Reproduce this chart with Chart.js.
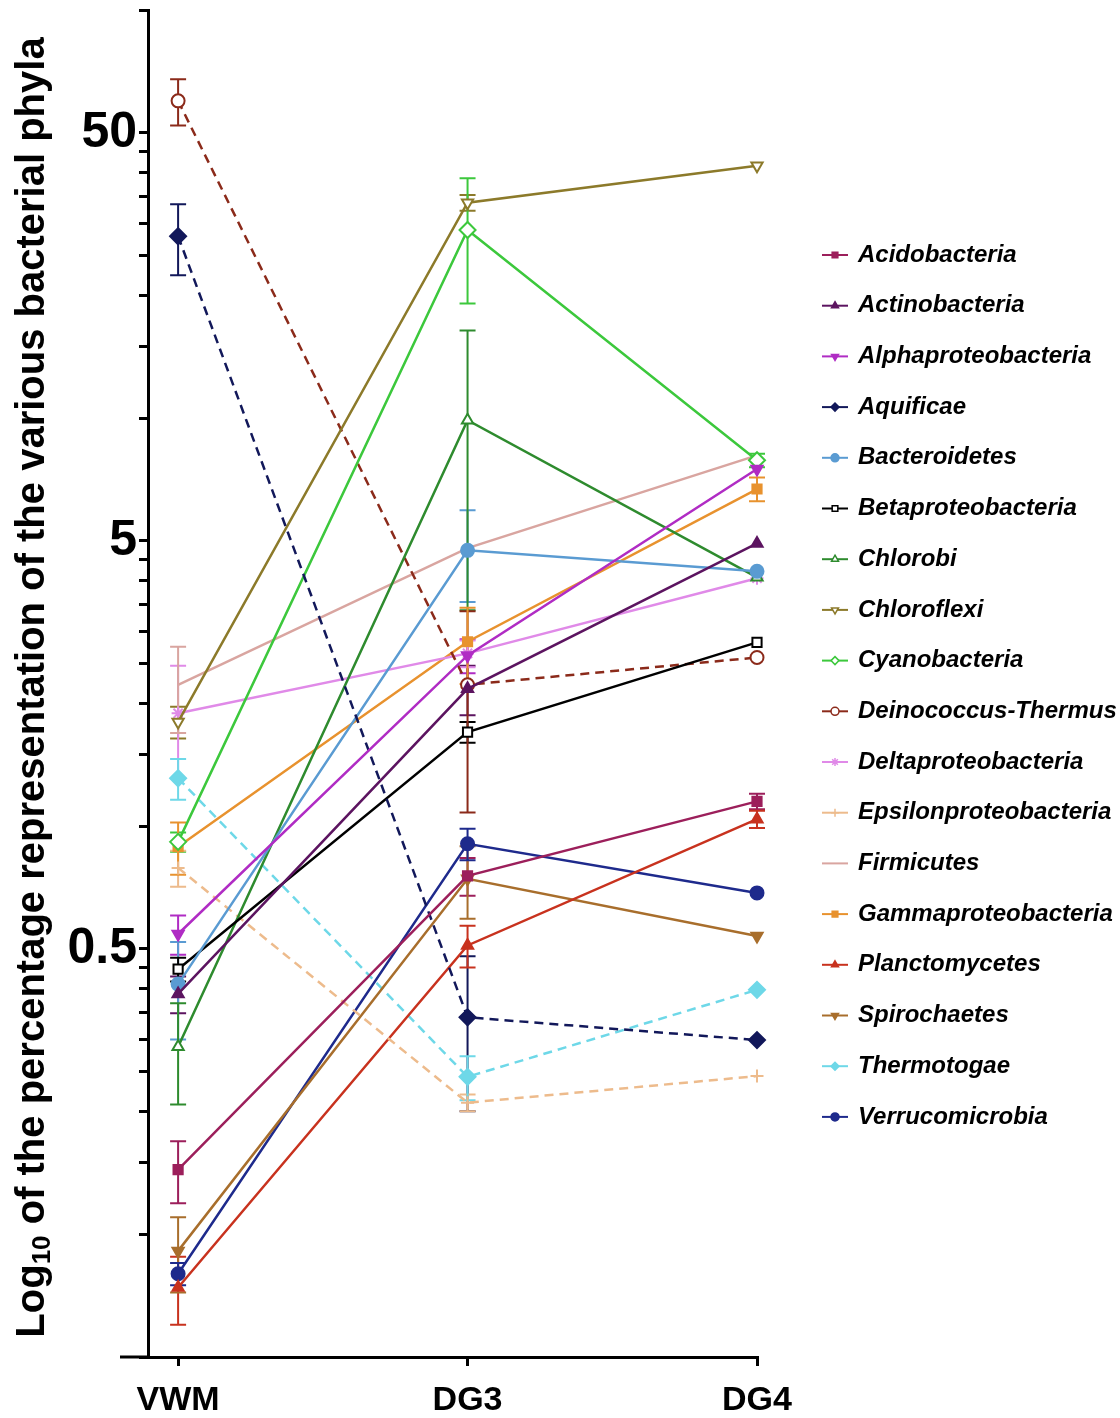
<!DOCTYPE html>
<html>
<head>
<meta charset="utf-8">
<script src="https://cdn.jsdelivr.net/npm/chart.js@4.4.1/dist/chart.umd.min.js"></script>
<style>
  body { margin: 0; background: #fff; }
</style>
</head>
<body>
<canvas id="phylaChart" width="1120" height="1418"></canvas>
<script>
// sampling sites (x categories)
const sites = ['VWM', 'DG3', 'DG4'];

const phyla = [
  'Acidobacteria', 'Actinobacteria', 'Alphaproteobacteria', 'Aquificae',
  'Bacteroidetes', 'Betaproteobacteria', 'Chlorobi', 'Chloroflexi',
  'Cyanobacteria', 'Deinococcus-Thermus', 'Deltaproteobacteria',
  'Epsilonproteobacteria', 'Firmicutes', 'Gammaproteobacteria',
  'Planctomycetes', 'Spirochaetes', 'Thermotogae', 'Verrucomicrobia'
];

// mean % per site, and SD
const acidobacteria = [0.144, 0.755, 1.15];
const acidobacteriaSd = [0.025, 0.08, 0.05];
const actinobacteria = [0.388, 2.17, 4.93];
const actinobacteriaSd = [0.04, 0.3, 0];
const alphaproteobacteria = [0.544, 2.62, 7.5];
const alphaproteobacteriaSd = [0.06, 0.25, 0];
const aquificae = [27.9, 0.34, 0.299];
const aquificaeSd = [5.5, 0.14, 0];
const bacteroidetes = [0.41, 4.74, 4.21];
const bacteroidetesSd = [0.11, 1.2, 0];
const betaproteobacteria = [0.446, 1.70, 2.82];
const betaproteobacteriaSd = [0.03, 0.1, 0];
const chlorobi = [0.288, 9.88, 4.07];
const chlorobiSd = [0.08, 6.5, 0];
const chloroflexi = [1.80, 33.7, 41.5];
const chloroflexiSd = [0.16, 1.5, 0];
const cyanobacteria = [0.915, 28.9, 7.88];
const cyanobacteriaSd = [0.05, 9.8, 0.3];
const deinococcusThermus = [59.9, 2.22, 2.59];
const deinococcusThermusSd = [7.8, 1.14, 0];
const deltaproteobacteria = [1.89, 2.65, 4.05];
const deltaproteobacteriaSd = [0.58, 0.2, 0];
const epsilonproteobacteria = [0.79, 0.21, 0.244];
const epsilonproteobacteriaSd = [0.08, 0.01, 0];
const firmicutes = [2.22, 4.8, 8.1];
const firmicutesSd = [0.53, 0, 0];
const gammaproteobacteria = [0.89, 2.83, 6.7];
const gammaproteobacteriaSd = [0.13, 0.6, 0.45];
const planctomycetes = [0.074, 0.51, 1.04];
const planctomycetesSd = [0.014, 0.06, 0.05];
const spirochaetes = [0.091, 0.743, 0.538];
const spirochaetesSd = [0.019, 0.15, 0];
const thermotogae = [1.31, 0.243, 0.397];
const thermotogaeSd = [0.15, 0.03, 0];
const verrucomicrobia = [0.08, 0.905, 0.686];
const verrucomicrobiaSd = [0.005, 0.08, 0];

const seriesValues = [
  acidobacteria, actinobacteria, alphaproteobacteria, aquificae,
  bacteroidetes, betaproteobacteria, chlorobi, chloroflexi,
  cyanobacteria, deinococcusThermus, deltaproteobacteria,
  epsilonproteobacteria, firmicutes, gammaproteobacteria,
  planctomycetes, spirochaetes, thermotogae, verrucomicrobia
];
const seriesSd = [
  acidobacteriaSd, actinobacteriaSd, alphaproteobacteriaSd, aquificaeSd,
  bacteroidetesSd, betaproteobacteriaSd, chlorobiSd, chloroflexiSd,
  cyanobacteriaSd, deinococcusThermusSd, deltaproteobacteriaSd,
  epsilonproteobacteriaSd, firmicutesSd, gammaproteobacteriaSd,
  planctomycetesSd, spirochaetesSd, thermotogaeSd, verrucomicrobiaSd
];

// y axis ticks (log scale)
const yTickValues = [
  0.05, 0.1, 0.15, 0.2, 0.25, 0.3, 0.35, 0.4, 0.45, 0.5,
  1, 1.5, 2, 2.5, 3, 3.5, 4, 4.5, 5,
  10, 15, 20, 25, 30, 35, 40, 45, 50, 100
];
const yTickLabels = [0.5, 5, 50];

// styles
const colors = [
  '#9c1f5b', '#5c1460', '#b02cc4', '#12185a',
  '#5a9bd2', '#000000', '#2e8b2e', '#8c7a2a',
  '#3cc83c', '#8b2a1a', '#e08ae8',
  '#edbb8c', '#d9a5a0', '#e8922e',
  '#c8321e', '#a86e2c', '#6ed8e8', '#1e2a8c'
];
const markers = [
  'rect', 'triangle', 'triangle', 'rectRot',
  'circle', 'rect', 'triangle', 'triangle',
  'rectRot', 'circle', 'star',
  'cross', false, 'rect',
  'triangle', 'triangle', 'rectRot', 'circle'
];
const rotations = [0, 0, 180, 0, 0, 0, 0, 180, 0, 0, 0, 0, 0, 0, 0, 180, 0, 0];
const openMarker = [false, false, false, false, false, true, true, true, true, true, false, false, false, false, false, false, false, false];
const dashed = [false, false, false, true, false, false, false, false, false, true, false, true, false, false, false, false, true, false];

const FONT = '"Liberation Sans", Arial, sans-serif';

const datasets = phyla.map((name, i) => ({
  label: name,
  data: seriesValues[i].map((v, k) => ({ x: k, y: v })),
  errors: seriesSd[i],
  borderColor: colors[i],
  backgroundColor: colors[i],
  borderWidth: 2.5,
  borderDash: dashed[i] ? [9, 6] : [],
  pointStyle: markers[i],
  pointRotation: rotations[i],
  pointRadius: markers[i] ? (markers[i] === 'rectRot' ? 8 : 6.5) : 0,
  pointBorderWidth: 2,
  pointBorderColor: colors[i],
  pointBackgroundColor: openMarker[i] ? '#ffffff' : colors[i],
  tension: 0,
  clip: false
}));

const errorBars = {
  id: 'errorBars',
  beforeDatasetsDraw(chart) {
    const { ctx, scales: { x, y } } = chart;
    ctx.save();
    ctx.lineWidth = 2;
    chart.data.datasets.forEach(ds => {
      ctx.strokeStyle = ds.borderColor;
      ds.errors.forEach((e, k) => {
        if (!e) return;
        const v = ds.data[k].y;
        const px = x.getPixelForValue(k);
        const top = y.getPixelForValue(v + e);
        const bot = y.getPixelForValue(Math.max(v - e, 0.05));
        ctx.beginPath();
        ctx.moveTo(px, top); ctx.lineTo(px, bot);
        ctx.moveTo(px - 8, top); ctx.lineTo(px + 8, top);
        ctx.moveTo(px - 8, bot); ctx.lineTo(px + 8, bot);
        ctx.stroke();
      });
    });
    ctx.restore();
  }
};

const axisExtras = {
  id: 'axisExtras',
  afterDraw(chart) {
    const { ctx, chartArea } = chart;
    ctx.save();
    // x axis runs a little past the y axis
    ctx.strokeStyle = '#000';
    ctx.lineWidth = 3;
    ctx.beginPath();
    ctx.moveTo(chartArea.left - 28, chartArea.bottom);
    ctx.lineTo(chartArea.left, chartArea.bottom);
    ctx.stroke();

    // y axis title with subscript
    const cy = (chartArea.top + chartArea.bottom) / 2 + 4;
    ctx.translate(44, cy);
    ctx.rotate(-Math.PI / 2);
    ctx.fillStyle = '#000';
    ctx.textBaseline = 'alphabetic';
    const big = 'bold 40px ' + FONT;
    const small = 'bold 26px ' + FONT;
    const a = 'Log', b = '10', c = ' of the percentage representation of the various bacterial phyla';
    ctx.font = big;
    const wa = ctx.measureText(a).width, wc = ctx.measureText(c).width;
    ctx.font = small;
    const wb = ctx.measureText(b).width;
    let tx = -(wa + wb + wc) / 2;
    ctx.font = big; ctx.fillText(a, tx, 0); tx += wa;
    ctx.font = small; ctx.fillText(b, tx, 6); tx += wb;
    ctx.font = big; ctx.fillText(c, tx, 0);
    ctx.restore();
  }
};

const sideLegend = {
  id: 'sideLegend',
  afterDraw(chart) {
    const { ctx, chartArea } = chart;
    const x0 = chartArea.right + 65;
    ctx.save();
    chart.data.datasets.forEach((ds, i) => {
      const y = chartArea.top + 245 + i * 50.7;
      ctx.setLineDash([]);
      ctx.strokeStyle = ds.borderColor;
      ctx.lineWidth = 2;
      ctx.beginPath();
      ctx.moveTo(x0, y); ctx.lineTo(x0 + 26, y);
      ctx.stroke();
      if (ds.pointStyle) {
        ctx.fillStyle = ds.pointBackgroundColor;
        ctx.lineWidth = 1.5;
        Chart.helpers.drawPoint(ctx, {
          pointStyle: ds.pointStyle, rotation: ds.pointRotation,
          radius: 4, borderWidth: 1.5
        }, x0 + 13, y);
      }
      ctx.fillStyle = '#000';
      ctx.font = 'italic bold 24px ' + FONT;
      ctx.textBaseline = 'middle';
      ctx.fillText(ds.label, x0 + 36, y);
    });
    ctx.restore();
  }
};

const ctx = document.getElementById('phylaChart').getContext('2d');
const phylaChart = new Chart(ctx, {
  type: 'line',
  data: { datasets },
  plugins: [errorBars, axisExtras, sideLegend],
  options: {
    responsive: false,
    animation: false,
    devicePixelRatio: 1,
    layout: { padding: { top: 10, right: 363, bottom: 0, left: 0 } },
    plugins: { legend: { display: false }, tooltip: { enabled: false } },
    scales: {
      x: {
        type: 'linear',
        min: -0.104,
        max: 2,
        afterBuildTicks: s => { s.ticks = sites.map((_, i) => ({ value: i })); },
        afterFit: s => { s.height = 61; s.paddingLeft = 0; s.paddingRight = 0; },
        ticks: {
          autoSkip: false,
          maxRotation: 0,
          padding: 14,
          color: '#000',
          font: { family: FONT, size: 34, weight: 'bold' },
          callback: v => sites[v]
        },
        grid: { drawOnChartArea: false, drawTicks: true, tickLength: 9, lineWidth: 3, color: '#000' },
        border: { display: true, width: 3, color: '#000' }
      },
      y: {
        type: 'logarithmic',
        min: 0.05,
        max: 100,
        afterBuildTicks: s => { s.ticks = yTickValues.map(v => ({ value: v })); },
        afterFit: s => { s.width = 148; s.paddingTop = 0; s.paddingBottom = 0; },
        ticks: {
          autoSkip: false,
          padding: 2,
          color: '#000',
          font: { family: FONT, size: 50, weight: 'bold' },
          callback: v => yTickLabels.includes(v) ? String(v) : ''
        },
        grid: { drawOnChartArea: false, drawTicks: true, tickLength: 9, lineWidth: 3, color: '#000' },
        border: { display: true, width: 3, color: '#000' }
      }
    }
  }
});
</script>
</body>
</html>
